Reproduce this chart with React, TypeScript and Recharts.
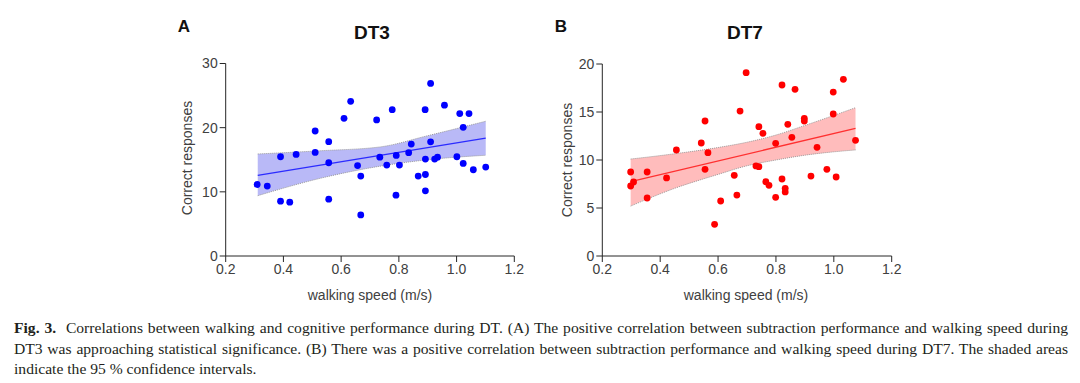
import React from 'react';
import { ComposedChart, Scatter, Line, Area, XAxis, YAxis } from 'recharts';

// DT3 panel (A)
const dt3Speed = [0.309, 0.344, 0.39, 0.39, 0.422, 0.444, 0.51, 0.51, 0.557, 0.557, 0.557, 0.61, 0.633, 0.657, 0.668, 0.668, 0.723, 0.734, 0.758, 0.777, 0.791, 0.79, 0.802, 0.834, 0.843, 0.867, 0.891, 0.892, 0.892, 0.892, 0.91, 0.91, 0.924, 0.934, 0.958, 1.001, 1.011, 1.023, 1.023, 1.043, 1.058, 1.101];
const dt3Correct = [11.14, 10.9, 15.47, 8.55, 8.39, 15.83, 19.48, 16.14, 17.81, 14.53, 8.86, 21.45, 24.1, 14.1, 12.45, 6.4, 21.2, 15.4, 14.17, 22.8, 15.67, 9.48, 14.17, 16.1, 17.45, 12.45, 22.8, 15.1, 12.7, 10.16, 26.9, 17.8, 15.1, 15.4, 23.5, 15.47, 22.2, 20.05, 14.42, 22.2, 13.44, 13.86];
const dt3FitX = [0.311, 1.101];
const dt3FitY = [12.55, 18.38];
const dt3BandX = [0.311, 0.527, 0.735, 0.9, 1.101];
const dt3BandLow = [9.4, 12.1, 14.0, 15.0, 15.7];
const dt3BandHigh = [15.9, 16.4, 17.0, 18.75, 21.0];

// DT7 panel (B)
const dt7Speed = [0.298, 0.298, 0.308, 0.355, 0.355, 0.422, 0.456, 0.542, 0.555, 0.555, 0.565, 0.588, 0.609, 0.656, 0.665, 0.676, 0.697, 0.741, 0.755, 0.731, 0.741, 0.799, 0.765, 0.776, 0.821, 0.866, 0.821, 0.799, 0.832, 0.832, 0.841, 0.855, 0.898, 0.898, 0.921, 0.942, 0.976, 0.998, 0.998, 1.008, 1.033, 1.075];
const dt7Correct = [8.75, 7.29, 7.71, 8.75, 6.04, 8.13, 11.04, 11.77, 14.06, 9.03, 10.76, 3.3, 5.73, 8.4, 6.35, 15.1, 19.1, 13.47, 12.78, 9.38, 9.3, 11.74, 7.74, 7.36, 17.81, 17.36, 8.02, 6.11, 7.05, 6.67, 13.72, 12.36, 14.34, 14.06, 8.33, 11.32, 9.03, 17.08, 14.79, 8.23, 18.4, 12.05];
const dt7FitX = [0.298, 1.075];
const dt7FitY = [7.74, 13.3];
const dt7BandX = [0.298, 0.45, 0.6, 0.7, 0.8, 0.9, 1.075];
const dt7BandLow = [5.2, 7.05, 8.5, 9.4, 10.0, 10.5, 11.05];
const dt7BandHigh = [10.1, 10.65, 11.3, 11.85, 12.6, 13.6, 15.45];

const xTicks = [0.2, 0.4, 0.6, 0.8, 1.0, 1.2];
const dt3Ticks = [0, 10, 20, 30];
const dt7Ticks = [0, 5, 10, 15, 20];

const sans = '"Liberation Sans", Arial, sans-serif';
const axisColor = '#262626';
const tickStyle = { fontSize: 14, fill: '#404040', fontFamily: sans };

const zip = (xs: number[], ys: number[]) => xs.map((x, i) => ({ x, y: ys[i] }));
const band = (xs: number[], lo: number[], hi: number[]) => xs.map((x, i) => ({ x, low: lo[i], high: hi[i] }));

interface PanelProps {
  left: number;
  top: number;
  yAxisWidth: number;
  marginTop: number;
  marginRight: number;
  yMax: number;
  yTicks: number[];
  points: { x: number; y: number }[];
  fit: { x: number; y: number }[];
  ci: { x: number; low: number; high: number }[];
  dotColor: string;
  lineColor: string;
  bandColor: string;
}

const Panel: React.FC<PanelProps> = (p) => (
  <div style={{ position: 'absolute', left: p.left, top: p.top }}>
    <ComposedChart
      width={400}
      height={260}
      margin={{ top: p.marginTop, right: p.marginRight, bottom: 14, left: 0 }}
    >
      <XAxis
        type="number"
        dataKey="x"
        domain={[0.2, 1.2]}
        ticks={xTicks}
        tickFormatter={(v: number) => v.toFixed(1)}
        tick={tickStyle}
        tickSize={6}
        height={30}
        stroke={axisColor}
        allowDataOverflow
      />
      <YAxis
        type="number"
        domain={[0, p.yMax]}
        ticks={p.yTicks}
        tick={tickStyle}
        tickSize={6}
        width={p.yAxisWidth}
        stroke={axisColor}
      />
      <Area
        data={p.ci}
        dataKey={(d: any) => [d.low, d.high]}
        type="monotone"
        fill={p.bandColor}
        fillOpacity={1}
        stroke="#9a9a9a"
        strokeWidth={1}
        strokeDasharray="1 1"
        isAnimationActive={false}
        activeDot={false}
      />
      <Line
        data={p.fit}
        dataKey="y"
        stroke={p.lineColor}
        strokeWidth={1.3}
        dot={false}
        activeDot={false}
        isAnimationActive={false}
      />
      <Scatter data={p.points} dataKey="y" fill={p.dotColor} shape={(s: any) => <circle cx={s.cx} cy={s.cy} r={3.4} fill={p.dotColor} />} isAnimationActive={false} />
    </ComposedChart>
  </div>
);

const Label: React.FC<{ x: number; y: number; text: string; size: number; bold?: boolean; rotate?: boolean }> = ({ x, y, text, size, bold, rotate }) => (
  <div
    style={{
      position: 'absolute',
      left: x,
      top: y,
      transform: `translate(-50%, -50%)${rotate ? ' rotate(-90deg)' : ''}`,
      whiteSpace: 'nowrap',
      fontFamily: sans,
      fontSize: size,
      fontWeight: bold ? 700 : 400,
      color: bold ? '#111' : '#404040',
      lineHeight: 1,
    }}
  >
    {text}
  </div>
);

const captionLine: React.CSSProperties = {
  whiteSpace: 'nowrap',
  textAlign: 'justify',
  textAlignLast: 'justify',
  height: 20.5,
};

export default function App() {
  return (
    <div style={{ position: 'absolute', left: 0, top: 0, width: 1080, height: 383, background: '#fff', overflow: 'hidden' }}>
      <Panel
        left={130}
        top={40}
        yAxisWidth={95.7}
        marginTop={23.5}
        marginRight={15.7}
        yMax={30}
        yTicks={dt3Ticks}
        points={zip(dt3Speed, dt3Correct)}
        fit={zip(dt3FitX, dt3FitY)}
        ci={band(dt3BandX, dt3BandLow, dt3BandHigh)}
        dotColor="#0000ff"
        lineColor="#2b2bff"
        bandColor="#b9b9f7"
      />
      <Panel
        left={507}
        top={40}
        yAxisWidth={95.3}
        marginTop={24}
        marginRight={15.3}
        yMax={20}
        yTicks={dt7Ticks}
        points={zip(dt7Speed, dt7Correct)}
        fit={zip(dt7FitX, dt7FitY)}
        ci={band(dt7BandX, dt7BandLow, dt7BandHigh)}
        dotColor="#ff0000"
        lineColor="#ff3030"
        bandColor="#ffbcbc"
      />

      <Label x={184} y={26} text="A" size={17} bold />
      <Label x={372} y={32} text="DT3" size={19} bold />
      <Label x={187} y={158} text="Correct responses" size={14} rotate />
      <Label x={370} y={295} text="walking speed (m/s)" size={14} />

      <Label x={561} y={26} text="B" size={17} bold />
      <Label x={745} y={32} text="DT7" size={19} bold />
      <Label x={567} y={160} text="Correct responses" size={14} rotate />
      <Label x={746} y={295} text="walking speed (m/s)" size={14} />

      <div
        style={{
          position: 'absolute',
          left: 14,
          top: 318,
          width: 1054,
          fontFamily: '"Liberation Serif", "Times New Roman", serif',
          fontSize: 15.6,
          color: '#231f20',
          lineHeight: '20.5px',
        }}
      >
        <div style={captionLine}>
          <b>Fig. 3.</b>&nbsp; Correlations between walking and cognitive performance during DT. (A) The positive correlation between subtraction performance and walking speed during
        </div>
        <div style={captionLine}>
          DT3 was approaching statistical significance. (B) There was a positive correlation between subtraction performance and walking speed during DT7. The shaded areas
        </div>
        <div style={{ whiteSpace: 'nowrap' }}>indicate the 95 % confidence intervals.</div>
      </div>
    </div>
  );
}
